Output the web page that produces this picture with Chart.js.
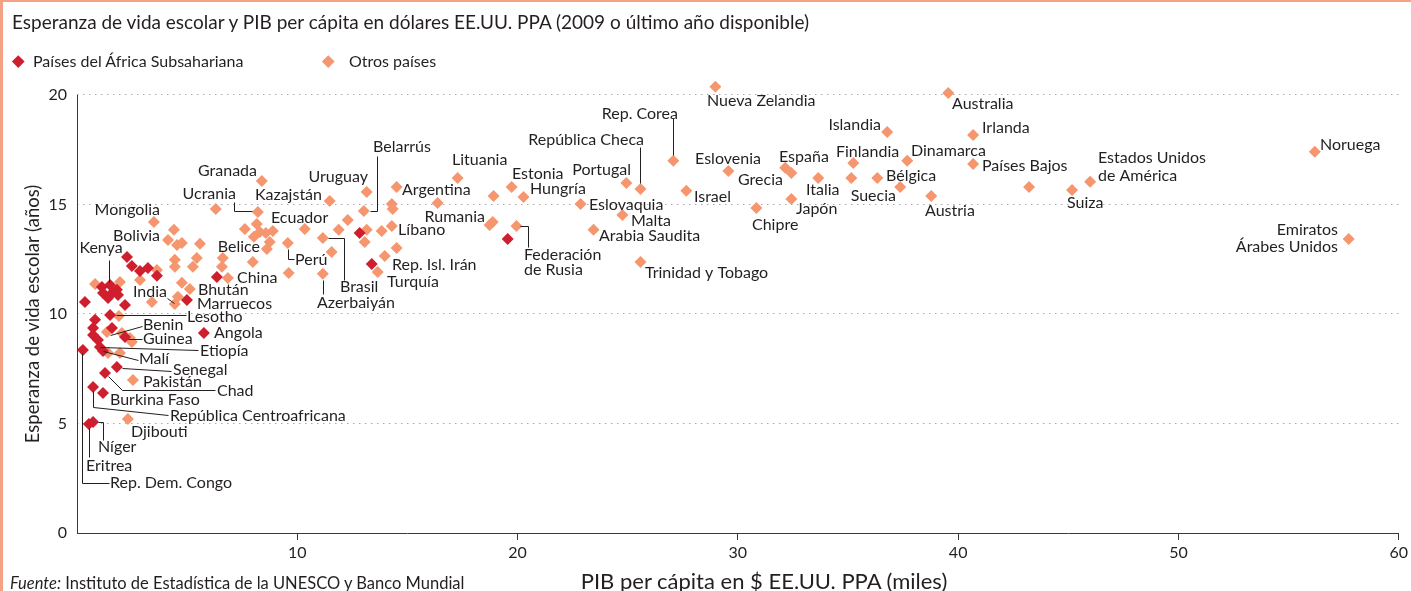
<!DOCTYPE html>
<html>
<head>
<meta charset="utf-8">
<script src="https://cdn.jsdelivr.net/npm/chart.js@4.4.7/dist/chart.umd.min.js"></script>
<style>
    html, body { margin: 0; padding: 0; background: #fff; }
    body { width: 1411px; height: 591px; overflow: hidden; position: relative; font-family: Lato, sans-serif; color: #231f20; }
    .frame { position: absolute; left: 0; top: 0; width: 1411px; height: 591px; border-left: 3px solid #f4a283; border-top: 2px solid #f4a283; box-sizing: border-box; pointer-events: none; }
    #chart { position: absolute; left: 0; top: 0; }
    .txt { position: absolute; white-space: nowrap; }
    .title { left: 12px; top: 11px; font-size: 19px; line-height: 22px; }
    .leg { top: 51px; font-size: 16px; line-height: 20px; }
    .dia { position: absolute; width: 8.5px; height: 8.5px; transform: rotate(45deg); }
    .ytitle { left: 32px; top: 314px; font-size: 18.5px; line-height: 22px; transform: translate(-50%, -50%) rotate(-90deg); }
    .xtitle { left: 764px; top: 581px; font-size: 22px; line-height: 24px; transform: translate(-50%, -50%); }
    .source { left: 10px; top: 572px; font-size: 16.5px; line-height: 22px; }
</style>
</head>
<body>
<canvas id="chart" width="1411" height="591"></canvas>
<div class="frame"></div>
<div class="txt title">Esperanza de vida escolar y PIB per cápita en dólares EE.UU. PPA (2009 o último año disponible)</div>
<div class="dia" style="left:14px;top:57px;background:#cf1f2e"></div>
<div class="txt leg" style="left:33px">Países del África Subsahariana</div>
<div class="dia" style="left:324px;top:57px;background:#f5966e"></div>
<div class="txt leg" style="left:349px">Otros países</div>
<div class="txt ytitle">Esperanza de vida escolar (años)</div>
<div class="txt xtitle">PIB per cápita en $ EE.UU. PPA (miles)</div>
<div class="txt source"><i>Fuente:</i> Instituto de Estadística de la UNESCO y Banco Mundial</div>
<script>
    // Sub-Saharan Africa (GDP per capita, thousands USD PPP / school life expectancy, years)
    var africaNames = ["", "", "", "", "", "", "", "Kenya", "", "", "", "", "", "", "", "",
        "Lesotho", "", "", "Benin", "", "Guinea", "", "Etiopía", "Malí", "Rep. Dem. Congo",
        "Senegal", "Chad", "República Centroafricana", "Burkina Faso", "Eritrea", "Níger", "Angola", "", "", ""];
    var africaGdp = [2.27, 2.49, 2.86, 3.22, 3.63, 6.35, 4.99, 1.50, 1.13, 1.81, 1.18, 1.59, 1.86, 1.41, 0.36, 2.18,
        1.50, 0.82, 0.73, 1.59, 0.73, 2.18, 0.95, 1.04, 1.18, 0.27,
        1.81, 1.27, 0.73, 1.18, 0.54, 0.73, 5.76, 12.83, 13.38, 19.55];
    var africaSle = [12.60, 12.19, 11.96, 12.10, 11.74, 11.69, 10.64, 11.32, 11.23, 11.10, 10.96, 10.96, 10.87, 10.73, 10.55, 10.41,
        9.95, 9.73, 9.36, 9.36, 9.04, 8.95, 8.81, 8.49, 8.31, 8.36,
        7.58, 7.31, 6.67, 6.39, 4.98, 5.07, 9.13, 13.70, 12.28, 13.42];

    // Other countries
    var otherNames = ["Nueva Zelandia", "Australia", "Islandia", "Irlanda", "Noruega", "Rep. Corea", "Eslovenia", "Finlandia",
        "Dinamarca", "Países Bajos", "España", "Grecia", "Lituania", "Italia", "", "Bélgica", "Portugal", "Granada",
        "Estonia", "Argentina", "Suecia", "", "Estados Unidos\nde América", "República Checa", "Suiza", "Israel",
        "Uruguay", "Hungría", "", "Austria", "Japón", "Kazajstán", "Eslovaquia", "", "", "", "Chipre", "Belarrús",
        "", "Ucrania", "Mongolia", "", "", "", "", "Líbano", "", "", "Rep. Isl. Irán", "Turquía", "", "Brasil", "",
        "Azerbaiyán", "Perú", "", "Bolivia", "", "Ecuador", "", "", "", "", "", "", "", "", "", "Belice",
        "", "", "", "", "", "", "", "China", "", "", "", "", "", "Bhután", "India", "", "", "Marruecos",
        "", "", "", "", "", "", "Pakistán", "Djibouti", "Federación\nde Rusia", "Rumania", "", "Malta",
        "Arabia Saudita", "Trinidad y Tobago", "Emiratos\nÁrabes Unidos"];
    var otherGdp = [28.98, 39.55, 36.78, 40.68, 56.19, 27.07, 29.57, 35.24,
        37.69, 40.68, 32.15, 32.43, 17.28, 33.65, 35.15, 36.33, 24.94, 8.39,
        19.73, 14.51, 37.37, 43.22, 45.99, 25.58, 45.17, 27.66,
        13.15, 20.27, 18.91, 38.78, 32.43, 11.47, 22.86, 16.37, 14.29, 14.33, 30.84, 13.02,
        6.30, 8.21, 3.49, 12.29, 11.88, 13.15, 13.83, 14.29, 13.06, 14.51, 13.97, 13.65, 10.34, 11.16, 11.56,
        11.16, 9.57, 9.61, 4.40, 7.62, 8.16, 8.30, 8.57, 8.89, 4.13, 4.54, 4.76, 5.58, 8.03, 8.75, 8.62,
        4.44, 4.44, 5.44, 5.26, 6.62, 6.58, 7.98, 6.85, 3.63, 2.86, 1.95, 0.82, 4.76, 5.12, 4.44, 3.40, 1.90, 4.58,
        1.36, 2.04, 2.40, 2.49, 1.41, 1.95, 2.54, 2.31, 19.95, 18.87, 18.73, 24.76,
        23.45, 25.58, 57.73];
    var otherSle = [20.37, 20.09, 18.31, 18.17, 17.40, 16.99, 16.53, 16.89,
        16.99, 16.85, 16.67, 16.44, 16.21, 16.21, 16.21, 16.21, 15.98, 16.07,
        15.80, 15.80, 15.80, 15.80, 16.03, 15.71, 15.66, 15.62,
        15.57, 15.34, 15.39, 15.39, 15.25, 15.16, 15.02, 15.07, 15.02, 14.79, 14.84, 14.70,
        14.79, 14.66, 14.20, 14.29, 13.84, 13.84, 13.79, 14.02, 13.29, 13.01, 12.65, 11.92, 13.88, 13.47, 12.83,
        11.83, 13.24, 11.87, 13.84, 13.88, 14.11, 13.74, 13.70, 13.79, 13.38, 13.15, 13.24, 13.20, 13.52, 13.29, 12.97,
        12.47, 12.15, 12.56, 12.15, 12.56, 12.15, 12.37, 11.64, 12.01, 11.55, 11.46, 11.37, 11.42, 11.14, 10.46, 10.55, 9.91, 10.78,
        9.18, 9.13, 8.90, 8.72, 8.22, 8.22, 6.99, 5.21, 14.02, 14.20, 14.06, 14.52,
        13.84, 12.37, 13.42];

    var xTicks = [0, 10, 20, 30, 40, 50, 60];
    var yTicks = [0, 5, 10, 15, 20];

    // label placement in pixels, relative to the marker
    var labelPos = {
        "Nueva Zelandia": { dx: -8, dy: 14 },
        "Australia": { dx: 4, dy: 11 },
        "Islandia": { dx: -6, dy: -7, align: "right" },
        "Irlanda": { dx: 9, dy: -7 },
        "Noruega": { dx: 5, dy: -7 },
        "Rep. Corea": { dx: 5, dy: -47, align: "right", path: [[0, -6], [0, -43]] },
        "Eslovenia": { dx: 0, dy: -12, align: "center" },
        "Finlandia": { dx: -17, dy: -11 },
        "Dinamarca": { dx: 4, dy: -10 },
        "Países Bajos": { dx: 9, dy: 2 },
        "España": { dx: -6, dy: -11 },
        "Grecia": { dx: -8, dy: 7, align: "right" },
        "Lituania": { dx: -6, dy: -18 },
        "Italia": { dx: -12, dy: 12 },
        "Bélgica": { dx: 9, dy: -2 },
        "Portugal": { dx: 5, dy: -13, align: "right" },
        "Estonia": { dx: 0, dy: -13 },
        "Argentina": { dx: 5, dy: 3 },
        "Suecia": { dx: -4, dy: 9, align: "right" },
        "Estados Unidos\nde América": { dx: 8, dy: -24, lh: 18 },
        "República Checa": { dx: 4, dy: -49, align: "right", path: [[0, -6], [0, -42]] },
        "Suiza": { dx: -5, dy: 13 },
        "Israel": { dx: 8, dy: 6 },
        "Uruguay": { dx: 1, dy: -15, align: "right" },
        "Hungría": { dx: 6, dy: -8 },
        "Austria": { dx: -6, dy: 15 },
        "Japón": { dx: 5, dy: 10 },
        "Kazajstán": { dx: -8, dy: -6, align: "right" },
        "Granada": { dx: -5, dy: -10, align: "right" },
        "Eslovaquia": { dx: 8, dy: 1 },
        "Chipre": { dx: -4, dy: 17 },
        "Belarrús": { dx: 9, dy: -64, path: [[6, 0], [13, 0], [13, -55]] },
        "Ucrania": { dx: -22, dy: -18, align: "right", path: [[-24, -10], [-24, -1], [-6, -1]] },
        "Ecuador": { dx: 14, dy: -6 },
        "Mongolia": { dx: 6, dy: -12, align: "right" },
        "Bolivia": { dx: -14, dy: 6, align: "right" },
        "Líbano": { dx: 6, dy: 4 },
        "Brasil": { dx: 17, dy: 49, path: [[5, 0], [21, 0], [21, 42]] },
        "Perú": { dx: 7, dy: 17, path: [[0, 6], [0, 16], [6, 16]] },
        "Azerbaiyán": { dx: -6, dy: 29, path: [[0, 6], [0, 20]] },
        "Belice": { dx: -7, dy: -2, align: "right" },
        "China": { dx: 9, dy: 0 },
        "India": { dx: -8, dy: -12, align: "right", path: [[-8, -6], [-1, -1]] },
        "Bhután": { dx: 8, dy: 1 },
        "Marruecos": { dx: 19, dy: 7 },
        "Pakistán": { dx: 10, dy: 2 },
        "Djibouti": { dx: 3, dy: 13 },
        "Rumania": { dx: -8, dy: -5, align: "right" },
        "Federación\nde Rusia": { dx: 8, dy: 29, lh: 15, path: [[4, 0], [12, 0], [12, 21]] },
        "Malta": { dx: 9, dy: 6 },
        "Arabia Saudita": { dx: 5, dy: 6 },
        "Trinidad y Tobago": { dx: 5, dy: 11 },
        "Turquía": { dx: 9, dy: 10 },
        "Rep. Isl. Irán": { dx: 7, dy: 9 },
        "Emiratos\nÁrabes Unidos": { dx: -11, dy: -9, align: "right", lh: 17 },
        "Kenya": { dx: -9, dy: -37, align: "center", path: [[-1, -25], [-1, -3]] },
        "Lesotho": { dx: 77, dy: 2, path: [[6, 0], [76, 0]] },
        "Benin": { dx: 31, dy: -3, path: [[-2, 7], [30, -2]] },
        "Guinea": { dx: 18, dy: 2, path: [[3, 2], [17, 2]] },
        "Angola": { dx: 10, dy: 0 },
        "Etiopía": { dx: 100, dy: 4, path: [[0, 0], [98, 3]] },
        "Malí": { dx: 36, dy: 8, path: [[0, 0], [35, 9]] },
        "Senegal": { dx: 56, dy: 3, path: [[5, 1], [54, 4]] },
        "Chad": { dx: 112, dy: 18, path: [[3, 3], [17, 17], [110, 17]] },
        "Burkina Faso": { dx: 7, dy: 7 },
        "República Centroafricana": { dx: 77, dy: 29, path: [[0, 4], [0, 20], [75, 28]] },
        "Níger": { dx: 5, dy: 25, path: [[5, 0], [10, 0], [10, 18]] },
        "Eritrea": { dx: -3, dy: 42, path: [[0, 4], [0, 33]] },
        "Rep. Dem. Congo": { dx: 27, dy: 133, path: [[-1, 3], [-1, 133], [26, 133]] }
    };

    function toPoints(xs, ys) {
        return xs.map(function (x, i) { return { x: x, y: ys[i] }; });
    }

    var nameSets = [africaNames, otherNames];

    var labelsPlugin = {
        id: "countryLabels",
        afterDatasetsDraw: function (chart) {
            var ctx = chart.ctx;
            var ys = chart.scales.y;
            ctx.save();
            // y axis line only from 0 to 20
            ctx.strokeStyle = "#3a3a3a";
            ctx.lineWidth = 1;
            ctx.beginPath();
            ctx.moveTo(Math.round(chart.chartArea.left) + 0.5, ys.getPixelForValue(0));
            ctx.lineTo(Math.round(chart.chartArea.left) + 0.5, ys.getPixelForValue(20));
            ctx.stroke();

            ctx.font = "16px Lato, sans-serif";
            ctx.fillStyle = "#231f20";
            ctx.strokeStyle = "#231f20";
            ctx.textBaseline = "middle";
            nameSets.forEach(function (names, di) {
                var meta = chart.getDatasetMeta(di);
                names.forEach(function (name, i) {
                    var lp = labelPos[name];
                    if (!name || !lp) return;
                    var px = Math.round(meta.data[i].x), py = Math.round(meta.data[i].y);
                    if (lp.path) {
                        ctx.beginPath();
                        lp.path.forEach(function (p, k) {
                            var fx = px + p[0] + 0.5, fy = py + p[1] + 0.5;
                            if (k) ctx.lineTo(fx, fy); else ctx.moveTo(fx, fy);
                        });
                        ctx.stroke();
                    }
                    ctx.textAlign = lp.align || "left";
                    name.split("\n").forEach(function (line, k) {
                        ctx.fillText(line, px + lp.dx, py + lp.dy + k * (lp.lh || 17));
                    });
                });
            });
            ctx.restore();
        }
    };

    new Chart(document.getElementById("chart"), {
        type: "scatter",
        data: {
            datasets: [
                { label: "Países del África Subsahariana", data: toPoints(africaGdp, africaSle), backgroundColor: "#cf1f2e", borderWidth: 0, pointStyle: "rectRot", pointRadius: 6, pointHoverRadius: 6 },
                { label: "Otros países", data: toPoints(otherGdp, otherSle), backgroundColor: "#f5966e", borderWidth: 0, pointStyle: "rectRot", pointRadius: 6, pointHoverRadius: 6 }
            ]
        },
        options: {
            responsive: false,
            animation: false,
            devicePixelRatio: 1,
            layout: { padding: { left: 0, right: 11, top: 73, bottom: 0 } },
            plugins: { legend: { display: false }, tooltip: { enabled: false } },
            scales: {
                x: {
                    type: "linear", min: 0, max: 60,
                    afterBuildTicks: function (s) { s.ticks = xTicks.map(function (v) { return { value: v }; }); },
                    afterFit: function (s) { s.height = 58; },
                    grid: {
                        drawOnChartArea: false, drawTicks: true, tickLength: 7,
                        color: function (c) { return c.tick && c.tick.value === 0 ? "rgba(0,0,0,0)" : "#3a3a3a"; }
                    },
                    border: { display: true, color: "#3a3a3a", width: 1 },
                    ticks: {
                        padding: 3, color: "#231f20", font: { family: "Lato", size: 16 },
                        callback: function (v) { return v === 0 ? "" : v; }
                    }
                },
                y: {
                    type: "linear", min: 0, max: 21,
                    afterBuildTicks: function (s) { s.ticks = yTicks.map(function (v) { return { value: v }; }); },
                    afterFit: function (s) { s.width = 77; },
                    grid: {
                        drawTicks: false, lineWidth: 1,
                        color: function (c) { return c.tick && c.tick.value === 0 ? "rgba(0,0,0,0)" : "#a8a8a8"; }
                    },
                    border: { display: false, dash: [1.5, 4.5] },
                    ticks: { padding: 10, color: "#231f20", font: { family: "Lato", size: 16 } }
                }
            }
        },
        plugins: [labelsPlugin]
    });
</script>
</body>
</html>
